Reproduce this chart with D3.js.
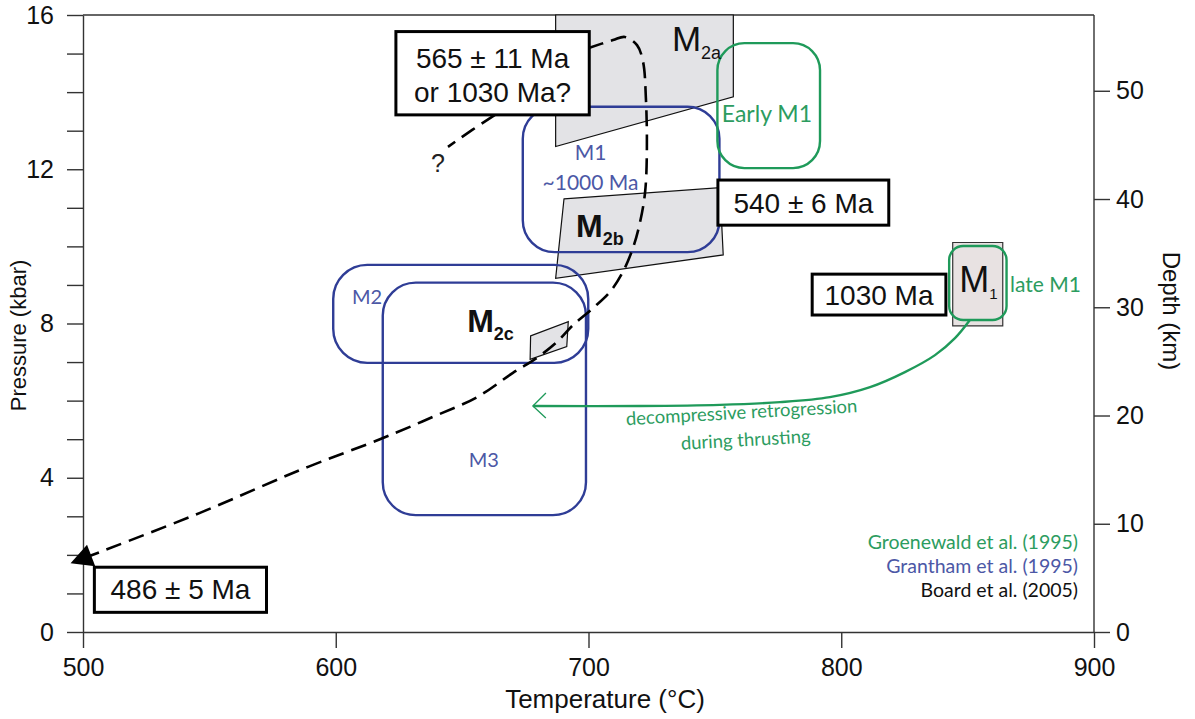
<!DOCTYPE html>
<html>
<head>
<meta charset="utf-8">
<script src="https://cdn.jsdelivr.net/npm/d3@7"></script>
<style>
  html, body { margin: 0; padding: 0; background: #fff; }
  svg { display: block; }
  .axis text { font-family: "Liberation Sans", Arial, sans-serif; font-size: 25px; fill: #111; }
  .axis path, .axis line { stroke: #333; stroke-width: 1.4; }
  .hum { font-family: Lato, "Open Sans", sans-serif; }
</style>
</head>
<body>
<svg id="chart" width="1195" height="719"></svg>
<script>
// Axis ticks
const tempTicks = [500, 600, 700, 800, 900];
const pressureTicks = [0, 1, 2, 3, 4, 5, 6, 7, 8, 9, 10, 11, 12, 13, 14, 15, 16];
const pressureLabels = [0, 4, 8, 12, 16];
const depthTicks = [0, 10, 20, 30, 40, 50];

// Metamorphic fields (Board et al. 2005), [T °C, P kbar]
const m2a = [[687.0, 16.0], [757.3, 16.0], [757.3, 13.88], [687.0, 12.59]];
const m2b = [[690.3, 11.23], [752.0, 11.52], [753.3, 9.78], [687.0, 9.17]];
const m2c = [[677.1, 7.68], [692.0, 8.05], [691.4, 7.40], [676.9, 7.07]];
const m1Box = [[844.1, 10.10], [863.9, 10.10], [863.9, 7.94], [844.1, 7.94]];

// Grantham et al. (1995) fields: [Tmin, Tmax, Pmin, Pmax]
const granthamM1 = [674.0, 751.8, 9.85, 13.62];
const granthamM2 = [599.0, 699.9, 6.98, 9.52];
const granthamM3 = [618.6, 699.0, 3.03, 9.06];

// Groenewald et al. (1995) fields
const earlyM1 = [751.0, 791.6, 12.03, 15.27];
const lateM1 = [842.7, 865.4, 8.09, 10.01];

// P-T path (Board et al. 2005)
const ptPath = [
  [699.8, 15.14], [709.7, 15.35], [714.4, 15.43], [719.2, 15.22], [721.6, 14.78],
  [722.7, 13.85], [723.1, 12.55], [722.4, 11.41], [720.4, 10.63], [717.6, 9.96],
  [713.6, 9.34], [708.5, 8.82], [701.8, 8.40], [693.9, 7.96], [687.5, 7.52],
  [679.6, 7.11], [670.1, 6.72], [655.9, 6.09], [638.5, 5.58], [618.7, 5.03],
  [585.9, 4.20], [546.3, 3.09], [501.0, 1.93]
];
const queryPath = [[663.0, 13.41], [654.0, 13.02], [644.4, 12.58]];

// Retrograde path of Groenewald et al.
const retroPath = [
  [850.9, 8.09], [845.0, 7.62], [837.1, 7.18], [825.2, 6.74], [811.4, 6.35],
  [795.5, 6.09], [775.8, 5.96], [752.0, 5.89], [720.4, 5.86], [678.0, 5.86]
];

const svg = d3.select("#chart");
const x = d3.scaleLinear().domain([500, 900]).range([83, 1094]);
const y = d3.scaleLinear().domain([0, 16]).range([632, 15]);
const yDepth = d3.scaleLinear().domain([0, 57]).range([632, 15]);

const BLUE = "#2f3d96", BLUE_TXT = "#4c58a6";
const GREEN = "#1f9a5a", GREEN_TXT = "#2c9c60";
const GRAY_FILL = "#e3e3e6";

// Axes
svg.append("g").attr("class", "axis").attr("transform", `translate(${x(500)},0)`)
  .call(d3.axisLeft(y).tickValues(pressureTicks).tickSize(16).tickSizeOuter(0).tickPadding(13)
    .tickFormat(d => pressureLabels.includes(d) ? d : ""));
svg.append("g").attr("class", "axis").attr("transform", `translate(0,${y(0)})`)
  .call(d3.axisBottom(x).tickValues(tempTicks).tickSize(16).tickSizeOuter(0).tickPadding(10));
const gR = svg.append("g").attr("class", "axis").attr("transform", `translate(${x(900)},0)`)
  .call(d3.axisRight(yDepth).tickValues(depthTicks).tickSize(16).tickSizeOuter(0).tickPadding(6));
gR.select(".domain").attr("d", `M0,${y(16)}V${y(0)}`);
svg.append("line").attr("x1", x(500)).attr("x2", x(900)).attr("y1", y(16)).attr("y2", y(16))
  .attr("stroke", "#333").attr("stroke-width", 1.4);

// Axis titles
const AR = "Liberation Sans, Arial, sans-serif";
svg.append("text").attr("transform", `translate(26,${(y(16) + y(0)) / 2 + 12}) rotate(-90)`)
  .attr("text-anchor", "middle").style("font-family", AR)
  .style("font-size", "22px").attr("fill", "#111").text("Pressure (kbar)");
svg.append("text").attr("x", 605).attr("y", 708)
  .attr("text-anchor", "middle").style("font-family", AR)
  .style("font-size", "26px").attr("fill", "#111").text("Temperature (°C)");
svg.append("text").attr("transform", `translate(1163,311) rotate(90)`)
  .attr("text-anchor", "middle").style("font-family", AR)
  .style("font-size", "24px").attr("fill", "#111").text("Depth (km)");

const poly = d3.line().x(d => x(d[0])).y(d => y(d[1])).curve(d3.curveLinearClosed);

// Grey P-T fields
[m2a, m2b, m2c].forEach(p => svg.append("path").attr("d", poly(p))
  .attr("fill", GRAY_FILL).attr("stroke", "#111").attr("stroke-width", 1.2));
svg.append("path").attr("d", poly(m1Box)).attr("fill", "#e8e2e2").attr("stroke", "#333").attr("stroke-width", 1.2);

// Rounded fields
function field(b, color, r) {
  svg.append("rect").attr("x", x(b[0])).attr("y", y(b[3]))
    .attr("width", x(b[1]) - x(b[0])).attr("height", y(b[2]) - y(b[3]))
    .attr("rx", r).attr("ry", r).attr("fill", "none").attr("stroke", color).attr("stroke-width", 2.4);
}
field(granthamM1, BLUE, 32);
field(granthamM2, BLUE, 34);
field(granthamM3, BLUE, 33);
field(earlyM1, GREEN, 27);
field(lateM1, GREEN, 14);

// Arrow markers
const defs = svg.append("defs");
defs.append("marker").attr("id", "tri").attr("markerUnits", "userSpaceOnUse")
  .attr("viewBox", "-2 -14 30 28").attr("markerWidth", 30).attr("markerHeight", 28)
  .attr("refX", 6).attr("refY", 0).attr("orient", "auto")
  .append("path").attr("d", "M0,-11.5L22,0L0,11.5Z").attr("fill", "#000");
defs.append("marker").attr("id", "chev").attr("markerUnits", "userSpaceOnUse")
  .attr("viewBox", "-16 -16 20 32").attr("markerWidth", 20).attr("markerHeight", 32)
  .attr("refX", 0).attr("refY", 0).attr("orient", "auto")
  .append("path").attr("d", "M-13,-12L0,0L-13,13").attr("fill", "none")
  .attr("stroke", GREEN).attr("stroke-width", 1.3);

const curve = d3.line().x(d => x(d[0])).y(d => y(d[1])).curve(d3.curveCatmullRom.alpha(0.5));

// Retrograde arrow
svg.append("path").attr("d", curve(retroPath)).attr("fill", "none")
  .attr("stroke", GREEN).attr("stroke-width", 2.4).attr("marker-end", "url(#chev)");

// P-T path
svg.append("path").attr("d", curve(ptPath)).attr("fill", "none")
  .attr("stroke", "#000").attr("stroke-width", 2.6).attr("stroke-dasharray", "16,8")
  .attr("marker-end", "url(#tri)");
svg.append("path").attr("d", curve(queryPath)).attr("fill", "none")
  .attr("stroke", "#000").attr("stroke-width", 2.6).attr("stroke-dasharray", "16,8");

// Age boxes
function ageBox(t0, t1, p0, p1, lines, baselines) {
  svg.append("rect").attr("x", x(t0)).attr("y", y(p1))
    .attr("width", x(t1) - x(t0)).attr("height", y(p0) - y(p1))
    .attr("fill", "#fff").attr("stroke", "#000").attr("stroke-width", 3);
  lines.forEach((s, i) => svg.append("text").attr("x", (x(t0) + x(t1)) / 2).attr("y", y(baselines[i]))
    .attr("text-anchor", "middle").style("font-family", AR).style("font-size", "28px")
    .attr("fill", "#111").text(s));
}
ageBox(623.8, 700.3, 13.41, 15.57, ["565 ± 11 Ma", "or 1030 Ma?"], [14.62, 13.75]);
ageBox(751.2, 818.8, 10.55, 11.72, ["540 ± 6 Ma"], [10.86]);
ageBox(788.5, 841.4, 8.22, 9.28, ["1030 Ma"], [8.48]);
ageBox(504.5, 572.6, 0.51, 1.68, ["486 ± 5 Ma"], [0.86]);

svg.append("text").attr("x", x(640.4)).attr("y", y(11.94)).attr("text-anchor", "middle")
  .style("font-family", AR).style("font-size", "25px").attr("fill", "#222").text("?");

// Metamorphic event labels
function mLabel(t, p, main, sub, size, subSize, bold) {
  const tx = svg.append("text").attr("x", x(t)).attr("y", y(p))
    .style("font-family", AR).style("font-size", size + "px").attr("fill", "#111")
    .style("font-weight", bold ? "bold" : "normal");
  tx.append("tspan").text(main);
  tx.append("tspan").attr("dy", subSize * 0.45).style("font-size", subSize + "px").text(sub);
}
mLabel(733.0, 15.07, "M", "2a", 35, 18, false);
mLabel(695.1, 10.24, "M", "2b", 32, 18, true);
mLabel(652.0, 7.78, "M", "2c", 32, 18, true);
mLabel(846.7, 8.82, "M", "1", 36, 15, false);

// Source annotations
function hum(t, p, s, color, size, anchor) {
  return svg.append("text").attr("class", "hum").attr("x", x(t)).attr("y", y(p))
    .attr("text-anchor", anchor || "middle").style("font-size", size + "px").attr("fill", color).text(s);
}
hum(700.8, 12.24, "M1", BLUE_TXT, 21);
hum(700.8, 11.46, "~1000 Ma", BLUE_TXT, 21);
hum(612.4, 8.50, "M2", BLUE_TXT, 20);
hum(658.6, 4.28, "M3", BLUE_TXT, 20);
hum(770.6, 13.23, "Early M1", GREEN_TXT, 23);
hum(866.8, 8.82, "late M1", GREEN_TXT, 21, "start");

[["decompressive retrogression", 5.53], ["during thrusting", 4.82]].forEach(([s, p], i) => {
  const tx = x(i === 0 ? 760.7 : 762.3), ty = y(p);
  svg.append("text").attr("class", "hum").attr("transform", `translate(${tx},${ty}) rotate(-3.2)`)
    .attr("text-anchor", "middle").style("font-size", "18.5px").attr("fill", GREEN_TXT).text(s);
});

// Sources
hum(893.7, 2.14, "Groenewald et al. (1995)", GREEN_TXT, 19.5, "end");
hum(893.7, 1.53, "Grantham et al. (1995)", BLUE_TXT, 19.5, "end");
hum(893.7, 0.91, "Board et al. (2005)", "#111", 19.5, "end");
</script>
</body>
</html>
